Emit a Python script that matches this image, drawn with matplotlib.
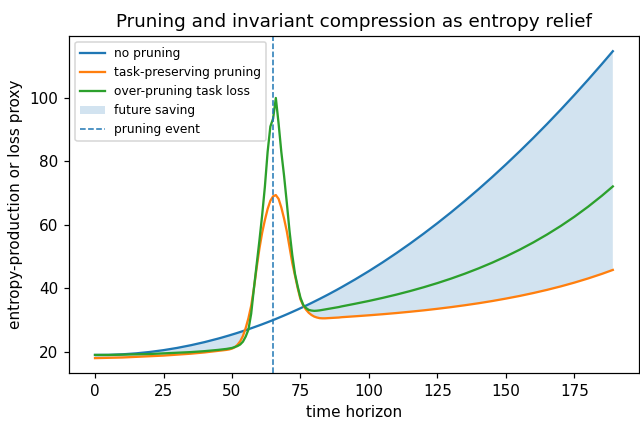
import matplotlib
matplotlib.use("Agg")
import matplotlib.pyplot as plt
import numpy as np

# time grid: coarse away from the pruning event, fine around it
t = [0, 5, 10, 15, 20, 25, 30, 35, 40] + list(range(45, 91)) + [95, 100, 105, 110, 115, 120, 125, 130, 135, 140, 145, 150, 155, 160, 165, 170, 175, 180, 185, 189]

no_pruning = [
    19.0, 19.03, 19.2, 19.5, 19.94, 20.51, 21.22, 22.07, 23.05,
    24.17, 24.41, 24.66, 24.91, 25.16, 25.43, 25.69, 25.96, 26.24, 26.53,
    26.82, 27.11, 27.41, 27.72, 28.03, 28.34, 28.66, 28.99, 29.32, 29.66,
    30.0, 30.35, 30.71, 31.07, 31.43, 31.8, 32.18, 32.56, 32.95, 33.34,
    33.74, 34.14, 34.55, 34.96, 35.38, 35.81, 36.24, 36.67, 37.12, 37.56,
    38.01, 38.47, 38.94, 39.4, 39.88, 40.36,
    42.84, 45.45, 48.2, 51.09, 54.11, 57.27, 60.56, 63.99, 67.56, 71.26,
    75.1, 79.08, 83.19, 87.43, 91.81, 96.33, 100.99, 105.78, 110.7, 114.74,
]

task_preserving = [
    18.0, 18.1, 18.2, 18.4, 18.6, 18.8, 19.1, 19.4, 19.8,
    20.3, 20.4, 20.5, 20.6, 20.75, 21.0, 21.4, 22.2, 23.3, 25.0,
    27.5, 30.6, 34.5, 40.0, 46.5, 52.5, 57.5, 61.5, 65.0, 67.6,
    69.0, 69.4, 68.2, 65.5, 62.0, 58.0, 53.0, 48.0, 44.0, 40.0,
    36.5, 34.6, 33.3, 32.3, 31.6, 31.1, 30.8, 30.6, 30.55, 30.55,
    30.6, 30.65, 30.7, 30.75, 30.8, 30.9,
    31.19, 31.5, 31.84, 32.21, 32.62, 33.06, 33.55, 34.08, 34.67, 35.3,
    36.0, 36.77, 37.6, 38.52, 39.52, 40.61, 41.81, 43.12, 44.55, 45.8,
]

over_pruning = [
    19.0, 19.0, 19.1, 19.2, 19.3, 19.5, 19.7, 19.9, 20.2,
    20.6, 20.7, 20.8, 20.9, 21.05, 21.2, 21.5, 21.8, 22.3, 23.2,
    24.8, 27.0, 32.0, 40.0, 47.5, 55.0, 63.0, 72.0, 83.0, 91.0,
    93.5, 100.0, 92.0, 83.0, 75.5, 67.0, 58.0, 50.5, 44.5, 40.5,
    37.0, 34.8, 33.8, 33.2, 33.0, 32.9, 32.95, 33.05, 33.2, 33.35,
    33.5, 33.65, 33.8, 33.95, 34.1, 34.3,
    35.15, 36.03, 36.99, 38.02, 39.14, 40.35, 41.66, 43.08, 44.62, 46.29,
    48.1, 50.06, 52.18, 54.48, 56.97, 59.66, 62.58, 65.75, 69.18, 72.12,
]

event_time = 65

t = np.array(t)
base = np.array(no_pruning)
kept = np.array(task_preserving)
lost = np.array(over_pruning)

DPI = 110
fig, ax = plt.subplots(figsize=(640 / DPI, 422 / DPI), dpi=DPI)
fig.subplots_adjust(left=0.108, right=0.998, top=0.915, bottom=0.115)

ax.plot(t, base, color="C0", linewidth=1.5, label="no pruning")
ax.plot(t, kept, color="C1", linewidth=1.5, label="task-preserving pruning")
ax.plot(t, lost, color="C2", linewidth=1.5, label="over-pruning task loss")
ax.fill_between(t, base, kept, where=base >= kept, interpolate=True,
                color="C0", alpha=0.2, linewidth=0, label="future saving")
ax.axvline(event_time, color="C0", linestyle="--", linewidth=1.0, label="pruning event")

ax.set_xlabel("time horizon")
ax.set_ylabel("entropy-production or loss proxy")
ax.set_title("Pruning and invariant compression as entropy relief")
ax.legend(loc="upper left", fontsize=8)

fig.savefig("out.png", dpi=DPI)
